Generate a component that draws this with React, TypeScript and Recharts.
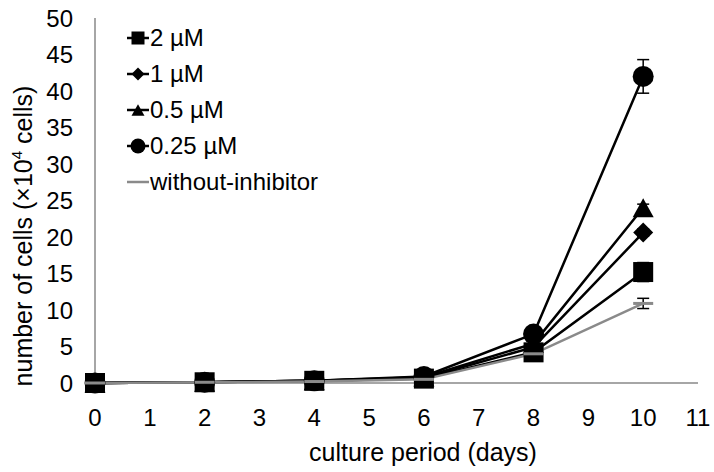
import { LineChart, Line, XAxis, YAxis, ErrorBar } from 'recharts';

const days = [0, 2, 4, 6, 8, 10];
const xTicks = [0, 1, 2, 3, 4, 5, 6, 7, 8, 9, 10, 11];
const yTicks = [0, 5, 10, 15, 20, 25, 30, 35, 40, 45, 50];

const um2 = [0, 0.1, 0.3, 0.6, 4.2, 15.2];
const um2Err = [0, 0.05, 0.1, 0.1, 0.3, 1.3];
const um1 = [0, 0.1, 0.3, 0.7, 4.9, 20.6];
const um1Err = [0, 0.05, 0.1, 0.1, 0.3, 0.5];
const um05 = [0, 0.1, 0.3, 0.8, 5.4, 24.0];
const um05Err = [0, 0.05, 0.1, 0.1, 0.3, 0.5];
const um025 = [0, 0.1, 0.3, 0.9, 6.7, 42.0];
const um025Err = [0, 0.05, 0.1, 0.1, 0.4, 2.3];
const noInh = [0, 0.1, 0.2, 0.5, 4.0, 10.9];
const noInhErr = [0, 0.05, 0.05, 0.1, 0.3, 0.7];

type Shape = 'square' | 'diamond' | 'triangle' | 'circle' | 'dash';

interface Series {
    key: string;
    label: string;
    values: number[];
    errors: number[];
    shape: Shape;
    color: string;
}

// legend order
const series: Series[] = [
    { key: 'um2', label: '2 µM', values: um2, errors: um2Err, shape: 'square', color: '#000000' },
    { key: 'um1', label: '1 µM', values: um1, errors: um1Err, shape: 'diamond', color: '#000000' },
    { key: 'um05', label: '0.5 µM', values: um05, errors: um05Err, shape: 'triangle', color: '#000000' },
    { key: 'um025', label: '0.25 µM', values: um025, errors: um025Err, shape: 'circle', color: '#000000' },
    { key: 'none', label: 'without-inhibitor', values: noInh, errors: noInhErr, shape: 'dash', color: '#8a8a8a' },
];

// drawing order: circles at the back, gray line on top
const drawOrder = ['um025', 'um05', 'um1', 'um2', 'none'];

const font = '"Liberation Sans", Arial, sans-serif';

function marker(shape: Shape, cx: number, cy: number, s: number, color: string) {
    const h = s / 2;
    if (shape === 'square') return <rect x={cx - h} y={cy - h} width={s} height={s} fill={color} />;
    if (shape === 'diamond')
        return <polygon points={`${cx},${cy - h} ${cx + h},${cy} ${cx},${cy + h} ${cx - h},${cy}`} fill={color} />;
    if (shape === 'triangle')
        return <polygon points={`${cx},${cy - h * 0.9} ${cx + h},${cy + h * 0.9} ${cx - h},${cy + h * 0.9}`} fill={color} />;
    if (shape === 'circle') return <circle cx={cx} cy={cy} r={h} fill={color} />;
    return <rect x={cx - h} y={cy - 1.5} width={s} height={3} fill={color} />;
}

function makeDot(shape: Shape, color: string) {
    return (props: any) => {
        const { cx, cy, index } = props;
        if (cx == null || cy == null) return <g key={index} />;
        const size = shape === 'circle' ? 21 : shape === 'triangle' ? 21 : 20;
        return <g key={index}>{marker(shape, cx, cy, size, color)}</g>;
    };
}

function LegendBox() {
    return (
        <div style={{ position: 'absolute', left: 126, top: 20, fontFamily: font, fontSize: 24, color: '#000' }}>
            {series.map((s) => (
                <div key={s.key} style={{ display: 'flex', alignItems: 'center', height: 36 }}>
                    <svg width={24} height={20}>
                        <line x1={1} y1={10} x2={23} y2={10} stroke={s.color} strokeWidth={2.5} />
                        {s.shape !== 'dash' && marker(s.shape, 12, 10, s.shape === 'circle' ? 15 : 13, s.color)}
                    </svg>
                    <span>{s.label}</span>
                </div>
            ))}
        </div>
    );
}

function YLabel() {
    return (
        <text x={32} y={236} transform="rotate(-90 32 236)" textAnchor="middle" fontFamily={font} fontSize={25} fill="#000">
            number of cells (×10<tspan fontSize={15} dy={-10}>4</tspan>
            <tspan dy={10}> cells)</tspan>
        </text>
    );
}

export default function App() {
    const byKey = (k: string) => series.find((s) => s.key === k)!;

    return (
        <div style={{ position: 'absolute', left: 0, top: 0, width: 714, height: 472, background: '#fff' }}>
            <LineChart width={714} height={472} margin={{ top: 18, right: 16, bottom: 49, left: 0 }}>
                <XAxis
                    type="number"
                    dataKey="day"
                    domain={[0, 11]}
                    ticks={xTicks}
                    allowDuplicatedCategory={false}
                    axisLine={{ stroke: '#888888', strokeWidth: 1.5 }}
                    tickLine={false}
                    tickSize={6}
                    tickMargin={20}
                    height={40}
                    tick={{ fontSize: 24, fill: '#000', fontFamily: font }}
                />
                <YAxis
                    type="number"
                    domain={[0, 50]}
                    ticks={yTicks}
                    width={95}
                    axisLine={{ stroke: '#888888', strokeWidth: 1.5 }}
                    tickLine={false}
                    tickSize={6}
                    tickMargin={16}
                    tick={{ fontSize: 24, fill: '#000', fontFamily: font }}
                    label={<YLabel />}
                />
                {drawOrder.map((k) => {
                    const s = byKey(k);
                    const data = days.map((d, i) => ({ day: d, value: s.values[i], err: s.errors[i] }));
                    return (
                        <Line
                            key={s.key}
                            data={data}
                            dataKey="value"
                            name={s.label}
                            stroke={s.color}
                            strokeWidth={2.5}
                            dot={makeDot(s.shape, s.color)}
                            activeDot={false}
                            isAnimationActive={false}
                        >
                            <ErrorBar dataKey="err" direction="y" width={6} stroke="#000" strokeWidth={1.5} />
                        </Line>
                    );
                })}
            </LineChart>
            <LegendBox />
            <div
                style={{
                    position: 'absolute',
                    left: 0,
                    width: 846,
                    top: 438,
                    textAlign: 'center',
                    fontFamily: font,
                    fontSize: 25,
                    color: '#000',
                }}
            >
                culture period (days)
            </div>
        </div>
    );
}
